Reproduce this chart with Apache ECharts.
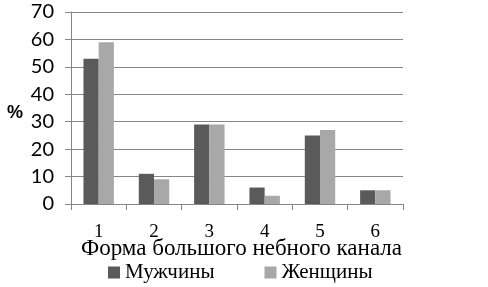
<!DOCTYPE html>
<html><head><meta charset="utf-8">
<script src="https://cdn.jsdelivr.net/npm/echarts@6/dist/echarts.min.js"></script>
<style>html,body{margin:0;padding:0;background:#fff}#c{width:488px;height:287px}</style>
</head><body><div id="c"></div>
<script>
const categories = ['1','2','3','4','5','6'];
const men = [53, 11, 29, 6, 25, 5];
const women = [59, 9, 29, 3, 27, 5];
const seriesNames = ['Мужчины', 'Женщины'];
const xTitle = 'Форма большого небного канала';
const yTitle = '%';

const chart = echarts.init(document.getElementById('c'));
chart.setOption({
  animation: false,
  grid: {left: 71, right: 85, top: 12, bottom: 83},
  legend: {
    data: seriesNames, bottom: -1, left: 103, itemWidth: 12, itemHeight: 12, itemGap: 50,
    icon: 'rect',
    textStyle: {fontFamily: 'Liberation Serif', fontSize: 21, color: '#000'}
  },
  graphic: [{
    type: 'text', left: 7, top: 104,
    style: {text: yTitle, fontFamily: 'Liberation Sans', fontWeight: 'bold', fontSize: 18, fill: '#000'}
  }],
  xAxis: {
    type: 'category', data: categories,
    name: xTitle, nameLocation: 'middle', nameGap: 33, nameMoveOverlap: false,
    nameTextStyle: {fontFamily: 'Liberation Serif', fontSize: 23, color: '#000', padding: [0, 0, 0, 9]},
    axisLine: {lineStyle: {color: '#868686'}},
    axisTick: {show: true, length: 6, lineStyle: {color: '#868686'}},
    axisLabel: {fontFamily: 'Liberation Serif', fontSize: 19, color: '#000', margin: 19}
  },
  yAxis: {
    type: 'value', min: 0, max: 70, interval: 10,
    axisLine: {show: true, lineStyle: {color: '#868686'}},
    axisTick: {show: true, length: 6, lineStyle: {color: '#868686'}},
    splitLine: {lineStyle: {color: '#868686'}},
    axisLabel: {fontFamily: 'Lato', fontSize: 20, color: '#000', margin: 17}
  },
  series: [
    {name: seriesNames[0], type: 'bar', data: men, barGap: '0%', barCategoryGap: '45%', itemStyle: {color: '#5a5a5a'}},
    {name: seriesNames[1], type: 'bar', data: women, itemStyle: {color: '#a8a8a8'}}
  ]
});
</script></body></html>
